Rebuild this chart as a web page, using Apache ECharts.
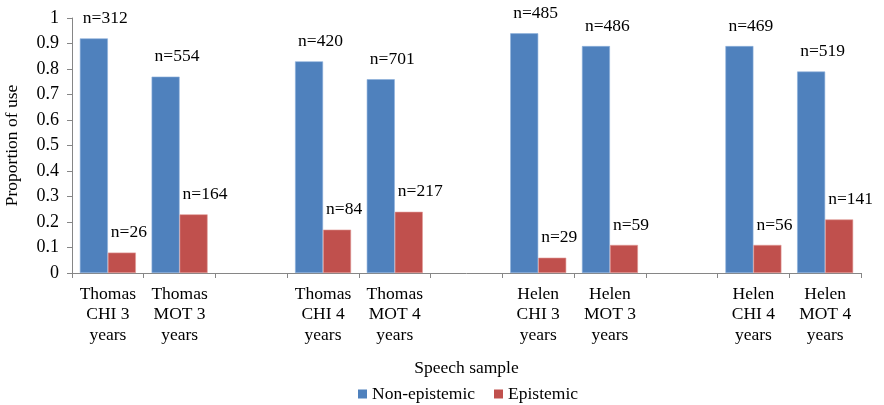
<!DOCTYPE html>
<html>
<head>
<meta charset="utf-8">
<script src="https://cdn.jsdelivr.net/npm/echarts@6/dist/echarts.min.js"></script>
<style>
html,body{margin:0;padding:0;background:#fff;}
#chart{width:884px;height:405px;}
</style>
</head>
<body>
<div id="chart"></div>
<script>
const categories = [
  "Thomas\nCHI 3\nyears", "Thomas\nMOT 3\nyears", "",
  "Thomas\nCHI 4\nyears", "Thomas\nMOT 4\nyears", "",
  "Helen\nCHI 3\nyears", "Helen\nMOT 3\nyears", "",
  "Helen\nCHI 4\nyears", "Helen\nMOT 4\nyears"
];
const nonEpistemic = [0.92, 0.77, null, 0.83, 0.76, null, 0.94, 0.89, null, 0.89, 0.79];
const epistemic    = [0.08, 0.23, null, 0.17, 0.24, null, 0.06, 0.11, null, 0.11, 0.21];
const nonEpistemicN = [312, 554, null, 420, 701, null, 485, 486, null, 469, 519];
const epistemicN    = [26, 164, null, 84, 217, null, 29, 59, null, 56, 141];
const yTicks = [0, 0.1, 0.2, 0.3, 0.4, 0.5, 0.6, 0.7, 0.8, 0.9, 1];

const FONT = "'Liberation Serif', 'Times New Roman', serif";
const chart = echarts.init(document.getElementById('chart'));

function labelFor(nArr) {
  return {
    show: true,
    position: 'top',
    align: 'left',
    offset: [-11, -6],
    fontFamily: FONT,
    fontSize: 17.5,
    color: '#000',
    formatter: p => nArr[p.dataIndex] == null ? '' : 'n=' + nArr[p.dataIndex]
  };
}

chart.setOption({
  animation: false,
  textStyle: { fontFamily: FONT },
  grid: { left: 72, right: 23, top: 18, bottom: 132, containLabel: false, outerBoundsMode: 'none' },
  legend: {
    top: 380,
    left: 353,
    padding: 5,
    itemWidth: 9,
    itemHeight: 9,
    itemGap: 19,
    icon: 'rect',
    itemStyle: { borderWidth: 0 },
    textStyle: { fontFamily: FONT, fontSize: 17.5, color: '#000' },
    data: ['Non-epistemic', 'Epistemic']
  },
  xAxis: {
    type: 'category',
    data: categories,
    name: 'Speech sample',
    nameLocation: 'middle',
    nameGap: 86,
    nameTextStyle: { fontFamily: FONT, fontSize: 17.5, color: '#000' },
    axisLine: { lineStyle: { color: '#868686', width: 1 } },
    axisTick: { show: true, length: 5, alignWithLabel: false, lineStyle: { color: '#868686' } },
    axisLabel: { interval: 0, margin: 11, fontFamily: FONT, fontSize: 17.5, color: '#000', lineHeight: 20.5 }
  },
  yAxis: {
    type: 'value',
    min: 0, max: 1, interval: 0.1,
    name: 'Proportion of use',
    nameLocation: 'middle',
    nameGap: 51,
    nameTextStyle: { fontFamily: FONT, fontSize: 17.5, color: '#000' },
    axisLine: { show: true, lineStyle: { color: '#868686', width: 1 } },
    axisTick: { show: true, length: 5, lineStyle: { color: '#868686' } },
    splitLine: { show: false },
    axisLabel: {
      margin: 13, fontFamily: FONT, fontSize: 18, color: '#000',
      formatter: v => { const t = yTicks.find(x => Math.abs(x - v) < 1e-9); return t === undefined ? '' : String(t); }
    }
  },
  series: [
    {
      name: 'Non-epistemic',
      type: 'bar',
      data: nonEpistemic,
      barWidth: 28,
      barGap: '0%',
      itemStyle: { color: '#4F81BD', borderColor: '#8DB0DB', borderWidth: 0.6 },
      label: labelFor(nonEpistemicN)
    },
    {
      name: 'Epistemic',
      type: 'bar',
      data: epistemic,
      barWidth: 28,
      barGap: '0%',
      itemStyle: { color: '#C0504D', borderColor: '#E09896', borderWidth: 0.6 },
      label: labelFor(epistemicN)
    }
  ]
});
</script>
</body>
</html>
